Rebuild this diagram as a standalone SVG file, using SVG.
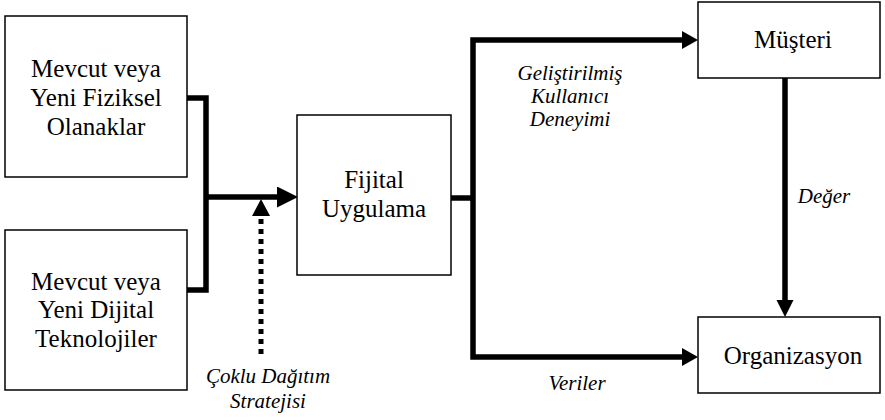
<svg xmlns="http://www.w3.org/2000/svg" width="885" height="420" viewBox="0 0 885 420">
<defs>
<style>
.box{fill:#fff;stroke:#000;stroke-width:1.5}
.c{fill:none;stroke:#000;stroke-width:5.5;stroke-linejoin:miter}
.d{fill:none;stroke:#000;stroke-width:5;stroke-dasharray:5 5}
</style>
<marker id="ab" markerUnits="userSpaceOnUse" markerWidth="22" markerHeight="22" refX="0" refY="10.5" orient="auto"><path d="M0,0 L21,10.5 L0,21 z" fill="#000"/></marker>
</defs>
<g id="connectors">
<path class="c" d="M187,98 H206 V290 H187"/>
<path class="c" d="M206,197 H277" marker-end="url(#ab)"/>
<path class="d" d="M261,354 V216"/>
<path d="M261,199 L270,216 L252,216 z" fill="#000"/>
<path class="c" d="M451,198 H473"/>
<path class="c" d="M682,40 H473 V357 H682"/>
<path d="M682,31 L698,40 L682,49 z M682,348 L698,357 L682,366 z" fill="#000"/>
<path class="c" d="M785,78 V300"/>
<path d="M776.5,300 L785,317 L793.5,300 z" fill="#000"/>
</g>
<g font-family="Liberation Serif, DejaVu Serif, serif" font-size="25" text-anchor="middle" fill="#000">
<g id="fiziksel">
<rect class="box" x="5" y="16" width="182" height="161"/>
<text x="96" y="77">Mevcut veya</text>
<text x="96" y="106">Yeni Fiziksel</text>
<text x="96" y="135">Olanaklar</text>
</g>
<g id="dijital">
<rect class="box" x="5" y="230" width="182" height="160"/>
<text x="96" y="290">Mevcut veya</text>
<text x="96" y="318">Yeni Dijital</text>
<text x="96" y="347">Teknolojiler</text>
</g>
<g id="fijital">
<rect class="box" x="297" y="115" width="154" height="160"/>
<text x="374" y="188">Fijital</text>
<text x="374" y="217">Uygulama</text>
</g>
<g id="musteri">
<rect class="box" x="698" y="2" width="182" height="76"/>
<text x="793" y="48">Müşteri</text>
</g>
<g id="organizasyon">
<rect class="box" x="698" y="317" width="182" height="76"/>
<text x="793" y="364">Organizasyon</text>
</g>
<g id="labels" font-size="21" font-style="italic">
<text x="268" y="383">Çoklu Dağıtım</text>
<text x="268" y="408">Stratejisi</text>
<text x="570" y="80">Geliştirilmiş</text>
<text x="570" y="103">Kullanıcı</text>
<text x="570" y="126">Deneyimi</text>
<text x="824" y="203">Değer</text>
<text x="577" y="390">Veriler</text>
</g>
</g>
</svg>
